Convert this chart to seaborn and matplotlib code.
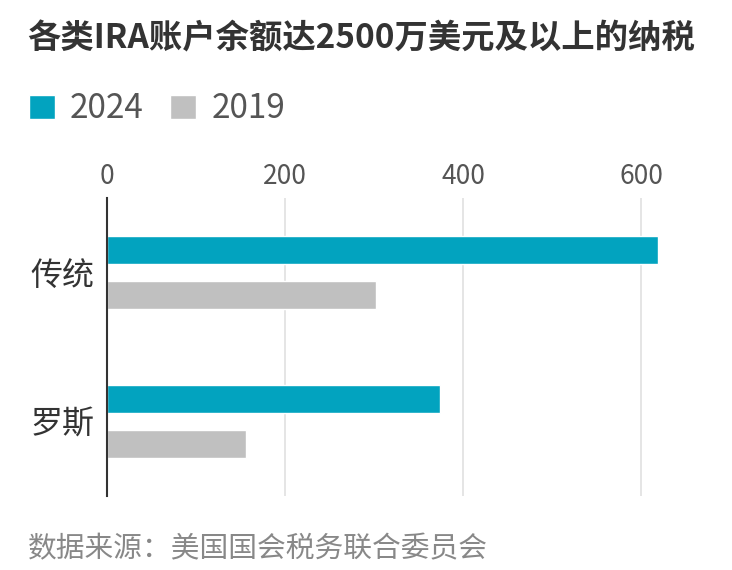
import matplotlib
matplotlib.use("Agg")
import matplotlib.pyplot as plt
import seaborn as sns
import pandas as pd

categories = ["传统", "罗斯"]
years = ["2024", "2019"]
values_2024 = [619, 374]
values_2019 = [302, 156]
xticks = [0, 200, 400, 600]

title = "各类IRA账户余额达2500万美元及以上的纳税"
source = "数据来源：美国国会税务联合委员会"

df = pd.DataFrame({
    "类型": categories * 2,
    "年份": [years[0]] * len(categories) + [years[1]] * len(categories),
    "人数": values_2024 + values_2019,
})

sns.set_theme(style="white")
plt.rcParams["font.family"] = ["Noto Sans CJK SC", "DejaVu Sans"]

teal = "#02A3BF"
gray = "#C0C0C0"

fig = plt.figure(figsize=(7.32, 5.70), dpi=100)
ax = fig.add_axes([107 / 732, 74 / 570, 569.6 / 732, 298 / 570])

sns.barplot(data=df, y="类型", x="人数", hue="年份", hue_order=years,
            order=categories, orient="h", palette=[teal, gray],
            width=0.6, gap=0.37, saturation=1, ax=ax)

ax.set_xlim(0, 640)
ax.set_ylim(1.5, -0.5)
ax.set_xlabel("")
ax.set_ylabel("")
ax.xaxis.tick_top()
ax.set_xticks(xticks)
ax.set_xticklabels([str(t) for t in xticks])
ax.tick_params(axis="x", length=0, pad=6, labelsize=19, labelcolor="#555555")
ax.tick_params(axis="y", length=0, pad=9, labelsize=23, labelcolor="#333333")
for t in xticks[1:]:
    ax.axvline(t, color="#e3e3e3", lw=1.3, zorder=0)
for s in ["top", "right", "bottom"]:
    ax.spines[s].set_visible(False)
ax.spines["left"].set_color("#333333")
ax.spines["left"].set_linewidth(1.5)

handles, labels = ax.get_legend_handles_labels()
ax.get_legend().remove()
fig.legend(handles, labels, loc="center left",
           bbox_to_anchor=(29 / 732, (570 - 109) / 570), ncol=2,
           frameon=False, fontsize=24, labelcolor="#555555",
           handlelength=0.78, handleheight=0.75, handletextpad=0.45,
           columnspacing=0.8, borderpad=0, borderaxespad=0)

fig.text(27 / 732, (570 - 39) / 570, title, fontsize=24, fontweight="bold",
         color="#333333", va="center", ha="left")
fig.text(28 / 732, (570 - 549) / 570, source, fontsize=20.7, color="#888888",
         va="center", ha="left")

fig.savefig("out.png", dpi=100)
